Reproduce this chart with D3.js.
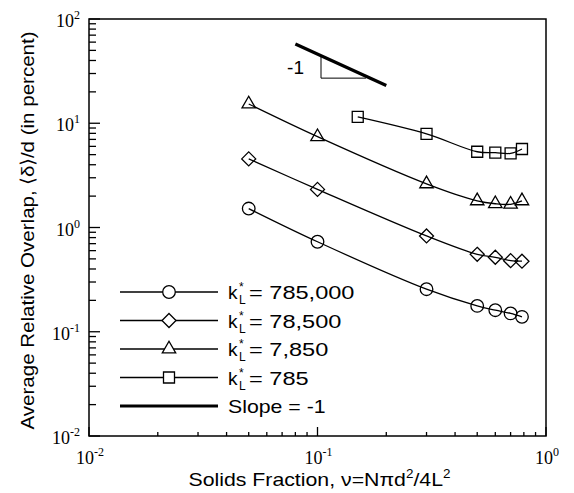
<!DOCTYPE html>
<html>
<head>
<meta charset="utf-8">
<script src="https://cdn.jsdelivr.net/npm/d3@7"></script>
<style>
  html, body { margin: 0; padding: 0; background: #fff; }
  svg { display: block; }
</style>
</head>
<body>
<svg id="chart" width="574" height="493"></svg>
<script>
// Solids fraction at which each run was made
const nuValues = [0.05, 0.1, 0.3, 0.5, 0.6, 0.7, 0.785];
const nuValuesSoft = [0.15, 0.3, 0.5, 0.6, 0.7, 0.785];

// Average relative overlap (percent) for each stiffness
const overlapK785000 = [1.52, 0.73, 0.256, 0.177, 0.161, 0.150, 0.139];
const overlapK78500  = [4.55, 2.32, 0.83, 0.553, 0.518, 0.481, 0.475];
const overlapK7850   = [15.3, 7.43, 2.62, 1.80, 1.69, 1.67, 1.80];
const overlapK785    = [11.5, 7.9, 5.33, 5.22, 5.14, 5.66];

const seriesLabels = ["785,000", "78,500", "7,850", "785"];
const slopeLabel = "Slope = -1";

// Reference slope -1 segment
const slopeX = [0.08, 0.2];
const slopeCoef = 4.6;           // y = slopeCoef / x
const slopeTriX = [0.1036, 0.163];

const xTickExps = [-2, -1, 0];
const yTickExps = [-2, -1, 0, 1, 2];

const W = 574, H = 493;
const margin = { left: 89, right: 28, top: 19, bottom: 57 };

const svg = d3.select("#chart");

const x = d3.scaleLog().domain([0.01, 1]).range([margin.left, W - margin.right]);
const y = d3.scaleLog().domain([0.01, 100]).range([H - margin.bottom, margin.top]);

const sans = "'Liberation Sans', Arial, Helvetica, sans-serif";
const serif = "'Liberation Serif', 'Times New Roman', Times, serif";

// Widen sans-serif text a little (the typeface is set wide)
function widen(sel, factor) {
  sel.each(function () {
    const n = this.getComputedTextLength();
    d3.select(this).attr("textLength", n * factor).attr("lengthAdjust", "spacingAndGlyphs");
  });
  return sel;
}

// Custom marker shapes
const diamondSym = {
  draw(ctx, size) {
    const r = Math.sqrt(size / 2);
    ctx.moveTo(0, -r); ctx.lineTo(r, 0); ctx.lineTo(0, r); ctx.lineTo(-r, 0); ctx.closePath();
  }
};
const triangleSym = {
  draw(ctx, size) {
    const w = Math.sqrt(size * 4 / Math.sqrt(3));
    const h = w * Math.sqrt(3) / 2;
    ctx.moveTo(0, -h * 2 / 3); ctx.lineTo(w / 2, h / 3); ctx.lineTo(-w / 2, h / 3); ctx.closePath();
  }
};

const series = [
  { label: seriesLabels[0], xs: nuValues, ys: overlapK785000, sym: d3.symbol(d3.symbolCircle, Math.PI * 6.3 * 6.3) },
  { label: seriesLabels[1], xs: nuValues, ys: overlapK78500, sym: d3.symbol(diamondSym, 2 * 7 * 7) },
  { label: seriesLabels[2], xs: nuValues, ys: overlapK7850, sym: d3.symbol(triangleSym, 78) },
  { label: seriesLabels[3], xs: nuValuesSoft, ys: overlapK785, sym: d3.symbol(d3.symbolSquare, 11 * 11) }
];

// Frame
svg.append("rect")
  .attr("x", x.range()[0]).attr("y", y.range()[1])
  .attr("width", x.range()[1] - x.range()[0])
  .attr("height", y.range()[0] - y.range()[1])
  .attr("fill", "none").attr("stroke", "#000").attr("stroke-width", 1.5);

// Y ticks (inward, on the left edge)
const yTicks = [];
for (let e = -2; e < 2; e++) for (let m = 1; m <= 9; m++) yTicks.push({ v: m * Math.pow(10, e), major: m === 1 });
yTicks.push({ v: 100, major: true });
svg.append("g").selectAll("line").data(yTicks).join("line")
  .attr("x1", x.range()[0]).attr("x2", d => x.range()[0] + (d.major ? 11 : 7))
  .attr("y1", d => y(d.v)).attr("y2", d => y(d.v))
  .attr("stroke", "#000").attr("stroke-width", 1.3);

// X ticks (inward, on the bottom edge)
const xTicks = [];
for (let e = -2; e < 0; e++) for (let m = 1; m <= 9; m++) xTicks.push({ v: m * Math.pow(10, e), major: m === 1 });
xTicks.push({ v: 1, major: true });
svg.append("g").selectAll("line").data(xTicks).join("line")
  .attr("x1", d => x(d.v)).attr("x2", d => x(d.v))
  .attr("y1", y.range()[0]).attr("y2", d => y.range()[0] - (d.major ? 9 : 4))
  .attr("stroke", "#000").attr("stroke-width", 1.3);

// Power-of-ten tick labels
function powerLabel(sel, exp) {
  sel.append("tspan").text("10");
  sel.append("tspan").attr("dy", -8).attr("font-size", 12).text(exp);
}
svg.append("g").selectAll("text").data(yTickExps).join("text")
  .attr("x", 80).attr("y", d => y(Math.pow(10, d)) + 8)
  .attr("text-anchor", "end")
  .attr("font-family", serif).attr("font-size", 18).attr("fill", "#000")
  .each(function (d) { powerLabel(d3.select(this), d); });
svg.append("g").selectAll("text").data(xTickExps).join("text")
  .attr("x", d => x(Math.pow(10, d)) + 1).attr("y", 464)
  .attr("text-anchor", "middle")
  .attr("font-family", serif).attr("font-size", 18).attr("fill", "#000")
  .each(function (d) { powerLabel(d3.select(this), d); });

// Axis titles
const xTitle = svg.append("text")
  .attr("x", (x.range()[0] + x.range()[1]) / 2 + 2).attr("y", 486)
  .attr("text-anchor", "middle")
  .attr("font-family", sans).attr("font-size", 19).attr("fill", "#000");
xTitle.append("tspan").text("Solids Fraction, \u03bd=N\u03c0d");
xTitle.append("tspan").attr("dy", -8).attr("font-size", 12).text("2");
xTitle.append("tspan").attr("dy", 8).text("/4L");
xTitle.append("tspan").attr("dy", -8).attr("font-size", 12).text("2");
widen(xTitle, 1.12);

const yTitle = svg.append("text")
  .attr("transform", `translate(34,${(y.range()[0] + y.range()[1]) / 2 + 3}) rotate(-90)`)
  .attr("text-anchor", "middle")
  .attr("font-family", sans).attr("font-size", 19).attr("fill", "#000")
  .text("Average Relative Overlap, \u27e8\u03b4\u27e9/d (in percent)");
widen(yTitle, 1.08);

// Data curves and markers
const line = d3.line()
  .x(d => x(d[0])).y(d => y(d[1]))
  .curve(d3.curveCatmullRom.alpha(0.5));

const plot = svg.append("g");
series.forEach(s => {
  const pts = s.xs.map((v, i) => [v, s.ys[i]]);
  plot.append("path").datum(pts)
    .attr("d", line)
    .attr("fill", "none").attr("stroke", "#000").attr("stroke-width", 1.3);
  plot.append("g").selectAll("path").data(pts).join("path")
    .attr("transform", d => `translate(${x(d[0])},${y(d[1])})`)
    .attr("d", s.sym)
    .attr("fill", "none").attr("stroke", "#000").attr("stroke-width", 1.3);
});

// Slope -1 guide with its triangle
const slopePts = slopeX.map(v => [v, slopeCoef / v]);
svg.append("line")
  .attr("x1", x(slopePts[0][0])).attr("y1", y(slopePts[0][1]))
  .attr("x2", x(slopePts[1][0])).attr("y2", y(slopePts[1][1]))
  .attr("stroke", "#000").attr("stroke-width", 3.2);
const triBottom = slopeCoef / slopeTriX[1] * 0.96;
svg.append("path")
  .attr("d", d3.line()([
    [x(slopeTriX[0]), y(slopeCoef / slopeTriX[0])],
    [x(slopeTriX[0]), y(triBottom)],
    [x(slopeTriX[1]), y(triBottom)]
  ]))
  .attr("fill", "none").attr("stroke", "#000").attr("stroke-width", 1);
svg.append("text")
  .attr("x", x(slopeTriX[0]) - 17).attr("y", (y(slopeCoef / slopeTriX[0]) + y(triBottom)) / 2 + 7)
  .attr("text-anchor", "end")
  .attr("font-family", sans).attr("font-size", 19).attr("fill", "#000")
  .text("-1");

// Legend
const legX0 = 120, legX1 = 218, legY0 = 292, legDy = 28.5, legTextX = 228;
const legend = svg.append("g");
series.forEach((s, i) => {
  const ly = legY0 + i * legDy;
  legend.append("line")
    .attr("x1", legX0).attr("x2", legX1).attr("y1", ly).attr("y2", ly)
    .attr("stroke", "#000").attr("stroke-width", 1.3);
  legend.append("path")
    .attr("transform", `translate(${(legX0 + legX1) / 2},${ly})`)
    .attr("d", s.sym)
    .attr("fill", "#fff").attr("stroke", "#000").attr("stroke-width", 1.3);
  const g = legend.append("g").attr("font-family", sans).attr("fill", "#000");
  g.append("text").attr("x", legTextX).attr("y", ly + 7).attr("font-size", 19).text("k");
  g.append("text").attr("x", legTextX + 11).attr("y", ly - 1).attr("font-size", 12).text("*");
  g.append("text").attr("x", legTextX + 11).attr("y", ly + 12).attr("font-size", 12).text("L");
  widen(g.append("text").attr("x", legTextX + 21).attr("y", ly + 7).attr("font-size", 19)
    .text("= " + s.label), 1.24);
});
const slopeLy = legY0 + 4 * legDy;
legend.append("line")
  .attr("x1", legX0).attr("x2", legX1).attr("y1", slopeLy).attr("y2", slopeLy)
  .attr("stroke", "#000").attr("stroke-width", 3);
widen(legend.append("text")
  .attr("x", legTextX).attr("y", slopeLy + 7)
  .attr("font-family", sans).attr("font-size", 19).attr("fill", "#000")
  .text(slopeLabel), 1.12);
</script>
</body>
</html>
